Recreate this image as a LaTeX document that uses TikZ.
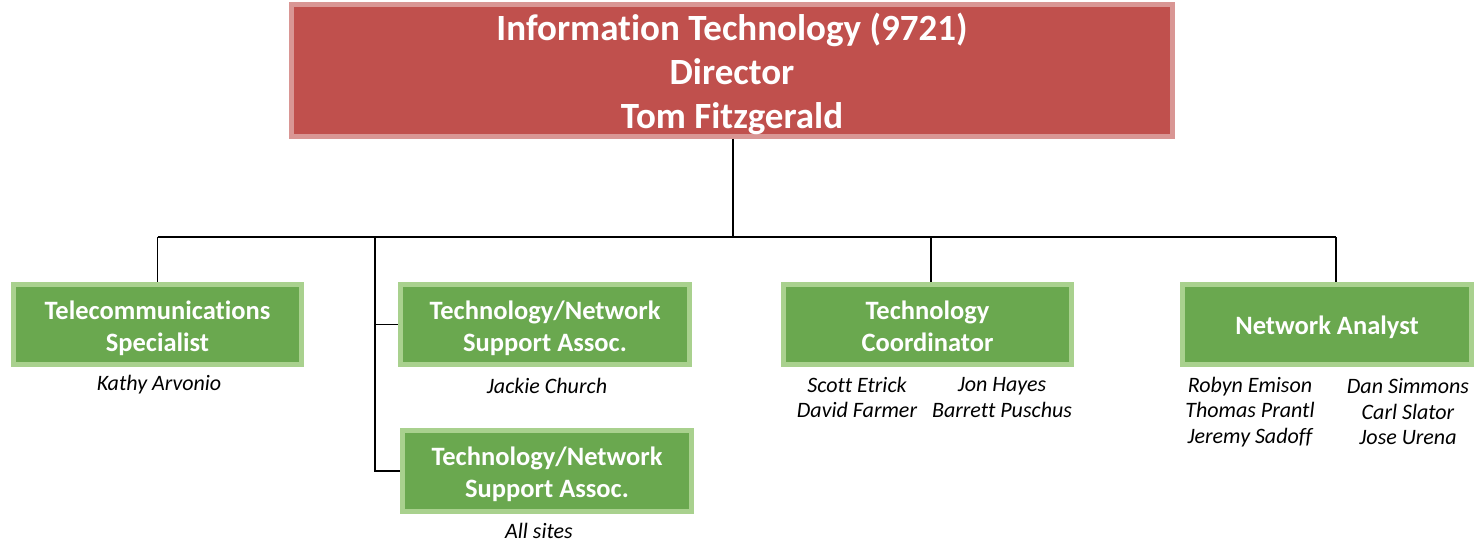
\documentclass[tikz,border=0pt]{standalone}
\usepackage{fontspec}
\setmainfont[Ligatures=NoCommon]{Carlito}
\definecolor{redfill}{HTML}{C0504D}
\definecolor{rededge}{HTML}{D99694}
\definecolor{greenfill}{HTML}{6AA84F}
\definecolor{greenedge}{HTML}{A9D18E}
\newcommand\boxtxt[2]{\raisebox{#1}[\height][\depth]{\begin{tabular}{@{}c@{}}#2\end{tabular}}}
\tikzset{
  topbox/.style={fill=redfill,draw=rededge,line width=5pt,text=white,
    minimum width=881pt,minimum height=129pt,inner sep=0pt,
    font=\fontsize{37}{44}\selectfont\bfseries},
  greenbox/.style={fill=greenfill,draw=greenedge,line width=5pt,text=white,
    minimum width=288pt,minimum height=80pt,inner sep=0pt,
    font=\fontsize{26.5}{32}\selectfont\bfseries},
  person/.style={align=center,inner sep=0pt,text=black,
    font=\fontsize{22}{25.5}\selectfont\itshape},
  conn/.style={draw=black,line width=1.8pt}
}
\begin{document}
\begin{tikzpicture}[x=1pt,y=-1pt]
\useasboundingbox (0,0) rectangle (1476,544);
\node[topbox] (dir) at (732,70) {\boxtxt{-6pt}{Information Technology (9721)\\Director\\Tom Fitzgerald}};
\node[greenbox] (tel) at (157.5,324.5) {\boxtxt{-4.5pt}{Telecommunications\\Specialist}};
\node[greenbox,minimum width=289pt] (tns1) at (545,324.5) {\boxtxt{-4.5pt}{Technology/Network\\Support Assoc.}};
\node[greenbox,minimum width=289pt,minimum height=81pt] (tns2) at (547,471) {\boxtxt{-4.5pt}{Technology/Network\\Support Assoc.}};
\node[greenbox] (tc) at (927.5,324.5) {\boxtxt{-5pt}{Technology\\Coordinator}};
\node[greenbox,minimum width=289pt] (na) at (1327,324.5) {\boxtxt{-4pt}{Network Analyst}};

\node[person] (p1) at (159,384.5) {Kathy Arvonio};
\node[person] (p2) at (547,386) {Jackie Church};
\node[person] (p3) at (539,531) {All sites};
\node[person] (p4) at (857,397.5) {Scott Etrick\\David Farmer};
\node[person] (p5) at (1002,397.5) {Jon Hayes\\Barrett Puschus};
\node[person] (p6) at (1250,412) {Robyn Emison\\Thomas Prantl\\Jeremy Sadoff};
\node[person] (p7) at (1408,412) {Dan Simmons\\Carl Slator\\Jose Urena};

\coordinate (b1) at (157.5,237);
\coordinate (b2) at (375,237);
\coordinate (b3) at (931,237);
\coordinate (b4) at (1336,237);
\coordinate (bd) at (733,237);

\draw[conn] (dir.south -| bd) -- (bd);
\draw[conn] (b1) -- (b4);
\draw[conn] (b1) -- (tel.north);
\draw[conn] (b3) -- (b3 |- tc.north);
\draw[conn] (b4) -- (b4 |- na.north);
\draw[conn] (b2) -- (b2 |- tns2.west) -- (tns2.west);
\draw[conn] (b2 |- tns1.west) -- (tns1.west);
\end{tikzpicture}
\end{document}
